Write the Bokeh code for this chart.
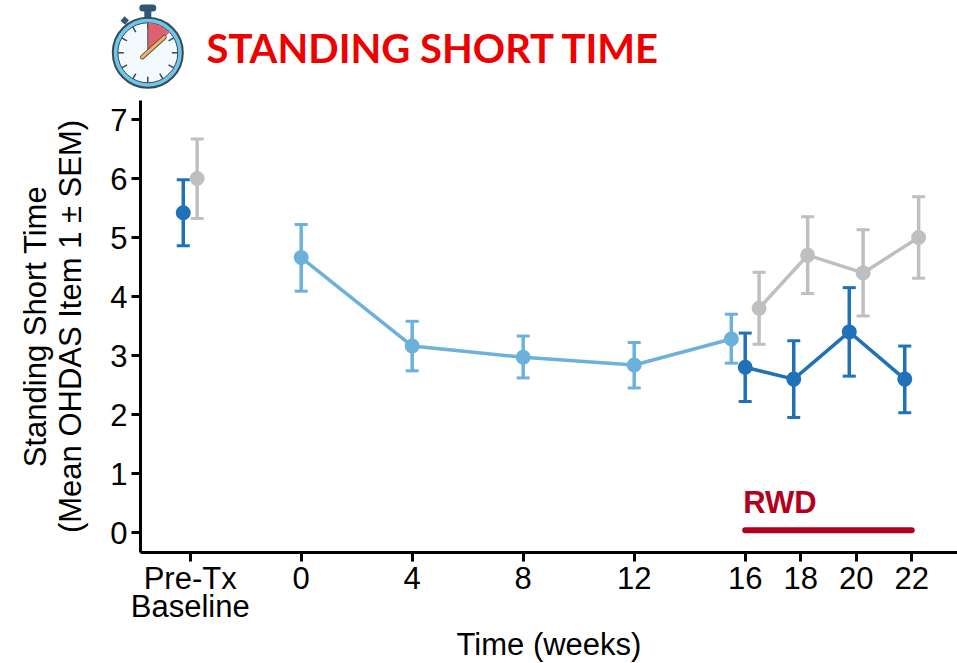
import math
from bokeh.plotting import figure
from bokeh.models import ColumnDataSource, Whisker, TeeHead, FixedTicker, Range1d
from bokeh.core.properties import value
from bokeh.embed import file_html
from bokeh.resources import INLINE

tick_positions = [-4, 0, 4, 8, 12, 16, 18, 20, 22]
tick_labels = ["Pre-Tx\nBaseline", "0", "4", "8", "12", "16", "18", "20", "22"]
y_ticks = [0, 1, 2, 3, 4, 5, 6, 7]

base_dark_x = [-4.25]
base_dark_y = [5.42]
base_dark_lo = [4.86]
base_dark_hi = [5.98]

base_grey_x = [-3.75]
base_grey_y = [6.0]
base_grey_lo = [5.32]
base_grey_hi = [6.67]

light_x = [0, 4, 8, 12, 15.5]
light_y = [4.66, 3.16, 2.97, 2.84, 3.28]
light_lo = [4.09, 2.74, 2.62, 2.45, 2.87]
light_hi = [5.22, 3.58, 3.33, 3.22, 3.70]

dark_x = [16, 17.75, 19.75, 21.75]
dark_y = [2.8, 2.6, 3.4, 2.6]
dark_lo = [2.22, 1.95, 2.65, 2.03]
dark_hi = [3.38, 3.25, 4.15, 3.16]

grey_x = [16.5, 18.25, 20.25, 22.25]
grey_y = [3.8, 4.7, 4.4, 5.0]
grey_lo = [3.19, 4.05, 3.67, 4.31]
grey_hi = [4.41, 5.35, 5.13, 5.69]

rwd_x = [16, 22]
rwd_y = [0.04, 0.04]

DARK = "#1F72B8"
LIGHT = "#6CB1DB"
GREY = "#BFBFBF"
RWD = "#B2001E"
FONT = "Liberation Sans"

LEFT, TOP, FW, FH = 140, 100, 817, 452
X0, XS = 300.7, 27.75
Y0, YS = 532.0, 59.0
xr = Range1d((140 - X0) / XS, (957 - X0) / XS)
yr = Range1d((Y0 - 552) / YS, (Y0 - 100) / YS)

p = figure(width=957, height=663, frame_width=FW, frame_height=FH,
           x_range=xr, y_range=yr, output_backend="svg", toolbar_location=None,
           min_border_left=LEFT, min_border_top=TOP, min_border_right=0, min_border_bottom=111)
p.grid.visible = False
p.outline_line_color = None

for ax in (p.xaxis[0], p.yaxis[0]):
    ax.axis_line_width = 3
    ax.axis_line_color = "black"
    ax.major_tick_line_width = 3
    ax.major_tick_line_color = "black"
    ax.major_tick_out = 9
    ax.major_tick_in = 0
    ax.minor_tick_line_color = None
    ax.major_label_text_font = FONT
    ax.major_label_text_font_size = "31px"
    ax.major_label_text_color = "black"
    ax.major_label_text_line_height = 0.82
    ax.axis_label_text_font = FONT
    ax.axis_label_text_font_size = "31px"
    ax.axis_label_text_font_style = "normal"
    ax.axis_label_text_color = "black"
    ax.axis_label_text_line_height = 1.0

p.xaxis[0].ticker = FixedTicker(ticks=tick_positions)
p.xaxis[0].major_label_overrides = dict(zip(tick_positions, tick_labels))
p.xaxis[0].axis_label = "Time (weeks)"
p.xaxis[0].major_label_standoff = -1
p.xaxis[0].axis_label_standoff = 0
p.yaxis[0].ticker = FixedTicker(ticks=y_ticks)
p.yaxis[0].axis_label = "Standing Short Time\n(Mean OHDAS Item 1 ± SEM)"
p.yaxis[0].major_label_standoff = 4
p.yaxis[0].axis_label_standoff = 19


def series(x, y, lo, hi, color, connect=True):
    src = ColumnDataSource(dict(x=x, y=y, lo=lo, hi=hi))
    if connect:
        p.line("x", "y", source=src, line_color=color, line_width=3.5)
    head = dict(size=13, line_color=color, line_width=3)
    p.add_layout(Whisker(base="x", lower="lo", upper="hi", source=src,
                         line_color=color, line_width=3.5,
                         lower_head=TeeHead(**head), upper_head=TeeHead(**head)))
    p.scatter("x", "y", source=src, size=15, fill_color=color, line_color=color, line_width=0)


series(base_grey_x, base_grey_y, base_grey_lo, base_grey_hi, GREY, False)
series(base_dark_x, base_dark_y, base_dark_lo, base_dark_hi, DARK, False)
series(grey_x, grey_y, grey_lo, grey_hi, GREY)
series(light_x, light_y, light_lo, light_hi, LIGHT)
series(dark_x, dark_y, dark_lo, dark_hi, DARK)

p.line(rwd_x, rwd_y, line_color=RWD, line_width=6, line_cap="round")
p.text([15.93], [0.51], text=["RWD"], text_color=RWD, text_font=value(FONT),
       text_font_size="31px", text_font_style="bold", text_baseline="alphabetic")


# Title and stopwatch icon, placed by page pixels above the plot frame
def dx(px):
    return (px - X0) / XS


def dy(py):
    return (Y0 - py) / YS


OV = "overlay"
p.text([dx(206)], [dy(47)], text=["STANDING SHORT TIME"], text_color="#EE0000",
       text_font=value("Lato"), text_font_size="40px", text_font_style="bold",
       text_baseline="alphabetic", level=OV)

CX, CY = 147.3, 52.3
ICON = "#2F5577"
EDGE = "#3A4A52"
p.line([dx(CX), dx(CX)], [dy(10), dy(18)], line_color=ICON, line_width=7, level=OV)
p.line([dx(CX - 5), dx(CX + 5)], [dy(7.5), dy(7.5)], line_color=ICON, line_width=7, line_cap="round", level=OV)
p.line([dx(122), dx(126.5)], [dy(18), dy(22)], line_color=ICON, line_width=6, level=OV)
p.scatter([dx(CX)], [dy(CY)], size=70, fill_color="#6EC6EE", line_color=EDGE, line_width=2, level=OV)
p.scatter([dx(CX)], [dy(CY)], size=60, fill_color="#F2FAFE", line_color=EDGE, line_width=1, level=OV)
for k in range(12):
    a = math.radians(k * 30)
    p.line([dx(CX + 24 * math.sin(a)), dx(CX + 30 * math.sin(a))],
           [dy(CY - 24 * math.cos(a)), dy(CY - 30 * math.cos(a))],
           line_color=EDGE, line_width=1.5, level=OV)
p.wedge([dx(CX)], [dy(CY)], radius=29.5, radius_units="screen",
        start_angle=math.radians(43), end_angle=math.radians(90),
        fill_color="#DE6070", line_color=None, level=OV)
p.line([dx(CX), dx(CX)], [dy(CY), dy(CY - 29.5)], line_color=EDGE, line_width=1, level=OV)
p.line([dx(141.7), dx(164)], [dy(56.7), dy(36.7)], line_color=EDGE, line_width=4.5, line_cap="round", level=OV)
p.line([dx(141.7), dx(164)], [dy(56.7), dy(36.7)], line_color="#F9AE5C", line_width=3, line_cap="round", level=OV)
p.scatter([dx(CX - 0.5)], [dy(CY)], size=9, fill_color="#F9AE5C", line_color=EDGE, line_width=1, level=OV)

open("out.html", "w").write(file_html(p, INLINE))
